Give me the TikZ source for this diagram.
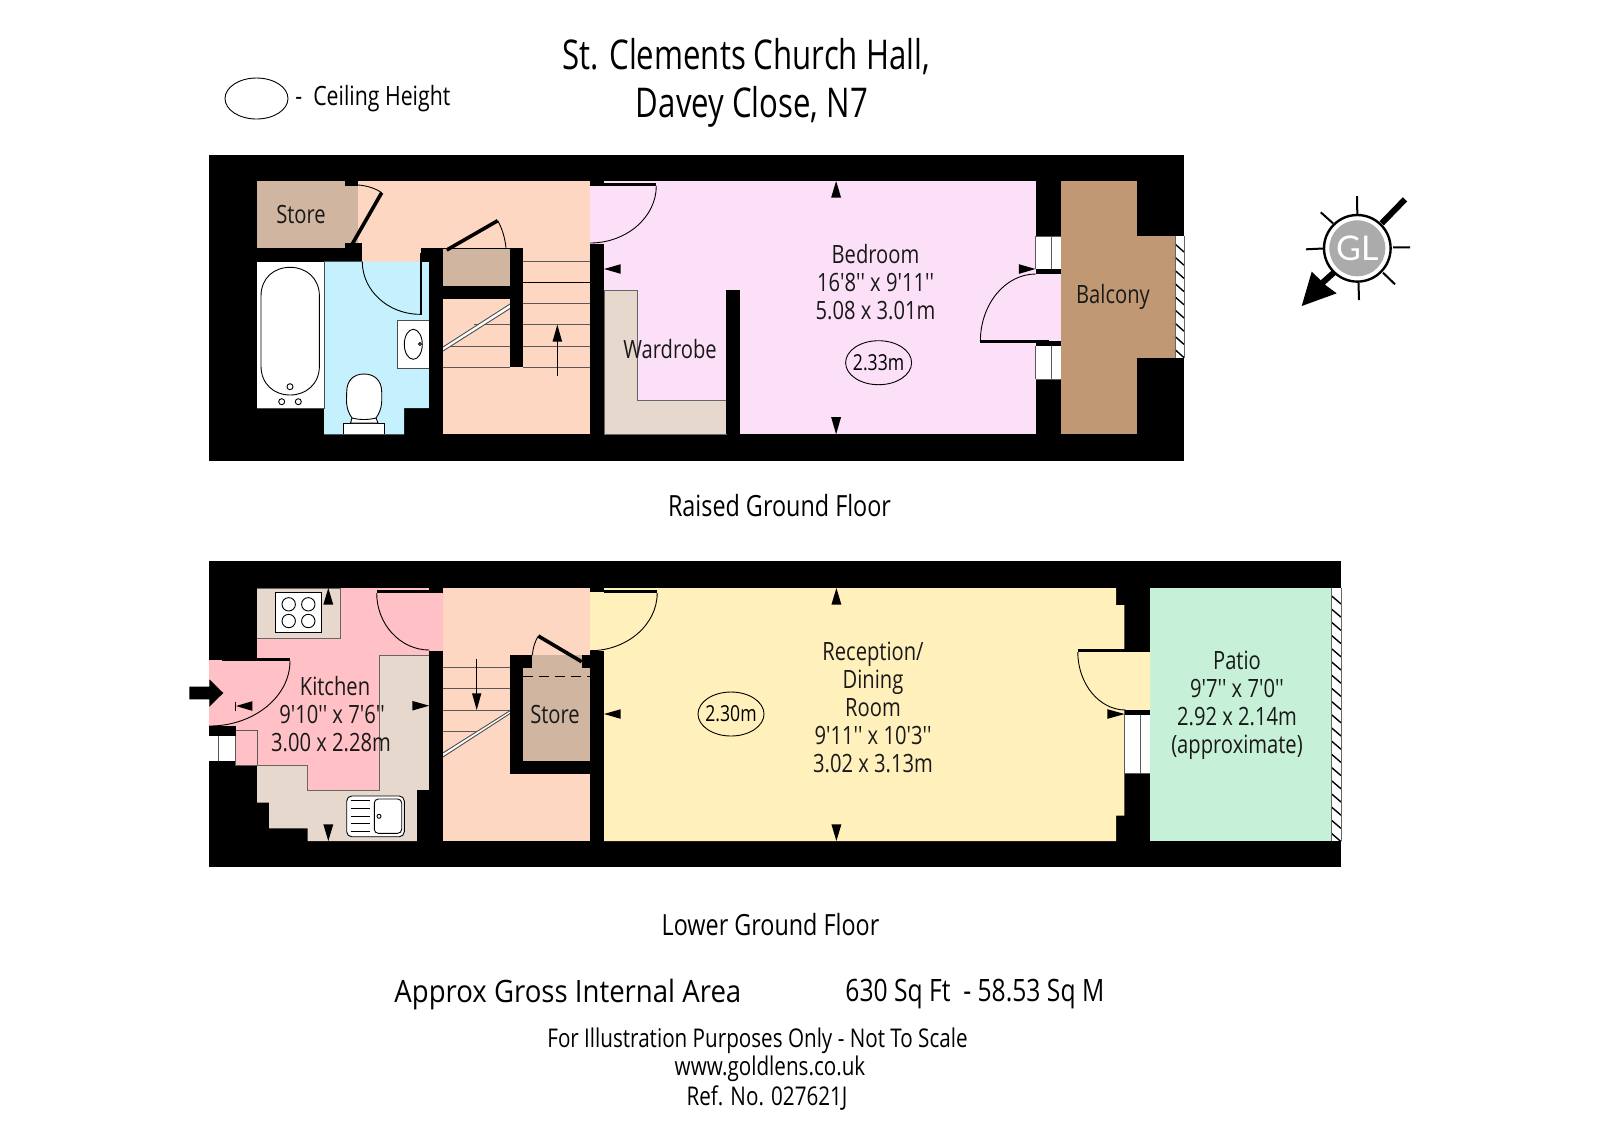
\documentclass[tikz,border=0pt]{standalone}
\usepackage{fontspec}
\newfontfamily\bodyfont[FakeStretch=0.8]{Open Sans}
\newfontfamily\titlefont[FakeStretch=0.76]{Open Sans}
\newfontfamily\widefont[FakeStretch=0.895]{Open Sans}
\newfontfamily\glfont{Lato}
\AtBeginDocument{\bodyfont}
\definecolor{peach}{HTML}{FDD7C2}
\definecolor{tan1}{HTML}{D0B5A0}
\definecolor{aqua}{HTML}{C4F1FD}
\definecolor{lilac}{HTML}{FCE0F8}
\definecolor{beige}{HTML}{E6D8CC}
\definecolor{balc}{HTML}{C09873}
\definecolor{pinkk}{HTML}{FFC1C6}
\definecolor{yell}{HTML}{FFF0BC}
\definecolor{greenp}{HTML}{C6F0D8}
\definecolor{gl}{HTML}{ABABAB}
\newcommand{\arcVH}[4]{(#1,#2) .. controls (#1,{#2+0.55*(#4-#2)}) and ({#3+0.55*(#1-#3)},#4) .. (#3,#4)}
\newcommand{\vtri}[3]{\fill (#1,#2) -- ({#1-5},#3) -- ({#1+5},#3) -- cycle;}
\newcommand{\htri}[3]{\fill (#2,#1) -- (#3,{#1-4.8}) -- (#3,{#1+4.8}) -- cycle;}
\newcommand{\hatchbar}[5]{\fill[white] (#1,#3) rectangle (#2,#4);
  \foreach \k in {1,...,#5} {\draw[line width=0.7pt] (#1,{#3+8+13.2*(\k-1)}) -- (#2,{#3+16+13.2*(\k-1)});}
  \draw[black!60,line width=0.4pt] (#1,#3) -- (#1,#4) (#2,#3) -- (#2,#4);}
\tikzset{
  thin line/.style={line width=0.45pt,black},
  leaf/.style={line width=1.8pt,black},
  stairl/.style={line width=0.45pt,black!65},
  room/.style={align=center,inner sep=0pt,font=\fontsize{12.6}{14}\selectfont,text=black!90},
  bigt/.style={align=center,inner sep=0pt,font=\titlefont\fontsize{20.5}{24}\selectfont},
  midt/.style={align=center,inner sep=0pt,font=\fontsize{15.4}{18}\selectfont},
  floort/.style={align=center,inner sep=0pt,font=\fontsize{14.6}{17}\selectfont},
  foot/.style={align=center,inner sep=0pt,font=\fontsize{12.9}{14.2}\selectfont},
  hnode/.style={draw=black,line width=0.45pt,ellipse,minimum width=33pt,minimum height=22pt,inner xsep=-3.2pt,inner ysep=0pt,font=\fontsize{11}{13}\selectfont}
}
\usetikzlibrary{shapes.geometric}
\begin{document}
\begin{tikzpicture}[x=0.5pt,y=-0.5pt]
\useasboundingbox (0,0) rectangle (1600,1132);
\fill[white] (0,0) rectangle (1600,1132);

%% ---------- titles ----------
\node[bigt] (title1) at (746,57) {St. Clements Church Hall,};
\node[bigt] (title2) at (752,106.5) {Davey Close, N7};
\node[hnode,minimum width=31.5pt,minimum height=20.5pt] (legend) at (256.5,98.5) {};
\node[foot,anchor=west,font=\fontsize{13.3}{15}\selectfont] (legendt) at (295,98.4) {-\ \ Ceiling Height};

%% ---------- raised ground floor ----------
\fill[black] (209,154.7) rectangle (1184,460.7);
% hall / stairs
\fill[peach] (358,181) rectangle (590,247.7);
\fill[peach] (362,247) rectangle (421,261.7);
\fill[peach] (523,247) rectangle (590,434.3);
\fill[peach] (443,299) rectangle (523,434.3);
% store
\fill[tan1] (257,181) rectangle (358,247.7);
\fill[black] (345,181) rectangle (358,185.5);
\fill[black] (345,243) rectangle (362,248);
\fill[tan1] (443,247.7) rectangle (510,286);
% bathroom
\fill[aqua] (324,261.7) -- (429,261.7) -- (429,408) -- (404,408) -- (404,434.3) -- (324,434.3) -- cycle;
\fill[black] (420.5,247.7) rectangle (429,261.7);
\fill[black] (420,253) rectangle (422,314.5);
\draw[thin line] \arcVH{362.3}{261.7}{420}{314.3};
% bath
\fill[white] (257,261.7) rectangle (324,408);
\draw[black!70,line width=0.3pt] (324,261.7) -- (324,408) -- (257,408);
\draw[thin line] (261,296) .. controls (261,278) and (274,267.3) .. (290.2,267.3) .. controls (306,267.3) and (319.4,278) .. (319.4,296) -- (319.4,366) .. controls (319.4,384) and (306,395) .. (290.2,395) .. controls (274,395) and (261,384) .. (261,366) -- cycle;
\draw[thin line] (290,386.7) circle[radius=3] (281.7,401.7) circle[radius=3] (298.3,401.7) circle[radius=3];
% basin
\fill[white] (397.3,320) rectangle (429,368.3);
\draw[thin line,black!70] (429,320) -- (397.3,320) -- (397.3,368.3) -- (429,368.3);
\draw[thin line] (413.3,344.3) ellipse[x radius=9,y radius=15];
\draw[thin line] (420,344) circle[radius=1.4];
% toilet
\filldraw[thin line,fill=white,line width=0.3pt] (343.7,434.3) -- (343.7,423.3) -- (384.3,423.3) -- (384.3,434.3);
\filldraw[thin line,fill=white] (350.5,423) -- (352,418) .. controls (345,408) and (346.7,400) .. (346.7,392) .. controls (346.7,380) and (354,374) .. (364,374) .. controls (374,374) and (381.7,380) .. (381.7,392) .. controls (381.7,400) and (383,408) .. (376,418) -- (378,423) -- cycle;
\draw[thin line] (352,418) .. controls (360,420) and (368,420) .. (376,418);
% stair lines
\foreach \yy in {261,282.3,303.7,324.7,346,367.3} {\draw[stairl] (523,\yy) -- (590,\yy);}
\draw[black,line width=0.45pt] (523,282.3) -- (590,282.3);
\draw[stairl] (443,346.2) -- (510,346.2);
\draw[stairl] (443,367.3) -- (510,367.3);
\draw[stairl] (474,324.7) -- (510,324.7);
\fill[white] (443,347) -- (510,304) -- (510,308.5) -- (443,351) -- cycle;
\draw[thin line,black!70] (443,347) -- (510,304) (443,351) -- (510,308.5);
% walls inside
\fill[black] (429,247.7) rectangle (443,434.3);
\fill[black] (443,286) rectangle (510,299);
\fill[black] (510,247.7) rectangle (523.3,367.3);
\fill[black] (421,247.7) rectangle (510,248.5);
\draw[thin line] (557.3,376) -- (557.3,340);
\fill (557.3,324.7) -- (552.5,341.7) -- (562.2,341.7) -- cycle;
% store + stair store doors
\draw[leaf] (351.7,245) -- (381.7,192.7);
\draw[thin line] (358,185) .. controls (366,185.5) and (375,188) .. (381.7,192.7);
\draw[leaf] (446.7,250) -- (497.7,220.7);
\draw[thin line] (497.7,220.7) .. controls (502,228) and (505,238) .. (506,247.7);
% bedroom
\fill[lilac] (604,181) rectangle (1035.7,434.3);
\fill[lilac] (590,185) rectangle (604,244);
\fill[black] (590,181) rectangle (604,185.5);
\fill[black] (590,244) rectangle (604,434.3);
\fill[black] (604,183.3) rectangle (656.3,185.8);
\draw[thin line] \arcVH{656.3}{185.8}{590}{243};
% wardrobe
\filldraw[fill=beige,draw=black!60,line width=0.4pt] (604,290) -- (637.5,290) -- (637.5,400.7) -- (726.1,400.7) -- (726.1,434.3) -- (604,434.3) -- cycle;
\fill[black] (726.1,290) rectangle (739.5,434.3);
% bedroom right wall, door and windows
\fill[white] (1035.5,236) rectangle (1061.2,269);
\fill[white] (1035.5,345.7) rectangle (1061.2,379);
\draw[stairl] (1035.5,236) -- (1061.2,236) (1051.5,236) -- (1051.5,269) (1035.5,236) -- (1035.5,269);
\draw[stairl] (1035.5,379) -- (1061.2,379) (1051.5,345.7) -- (1051.5,379) (1035.5,345.7) -- (1035.5,379);
\fill[lilac] (1034.7,274) rectangle (1061.2,341);
\fill[black] (1035.5,269) rectangle (1061.2,274);
\fill[black] (980.2,340) rectangle (1048.6,343.3);
\fill[black] (1048.6,341) rectangle (1061.2,345.7);
\draw[thin line] \arcVH{980.4}{341}{1035.7}{274};
% balcony
\fill[balc] (1061.2,181) rectangle (1136.7,434.3);
\fill[balc] (1136.5,236) rectangle (1175,357.7);
\hatchbar{1175}{1184}{236}{357.7}{9}
% triangles
\htri{269}{604}{620.7}
\htri{269}{1035.5}{1018.9}
\vtri{836.1}{181}{197.7}
\vtri{836.1}{434.3}{417}
% labels
\node[room] (store1) at (301,214) {Store};
\node[room] (wardrobe) at (670,349) {Wardrobe};
\node[room] (bedroom) at (875.5,282) {Bedroom\\16'8'' x 9'11''\\5.08 x 3.01m};
\node[room] (balcony) at (1113,297) {Balcony};
\node[hnode] (h233) at (878.6,362.7) {2.33m};
\node[floort] (rgf) at (779.5,505.5) {Raised Ground Floor};

%% ---------- compass ----------
\draw[line width=1pt] (1357.3,214) -- (1357,196) (1323,248.5) -- (1306,249.3) (1393,247.3) -- (1410,247.3) (1383,272.7) -- (1395,284.3) (1358.5,283) -- (1359,300);
\draw[line width=1pt] (1320.7,212.3) -- (1333,223.3);
\draw[line width=3pt] (1381.7,223.3) -- (1405,199.3);
\draw[line width=3pt] (1335,271.5) -- (1320,285);
\fill (1301.7,306) -- (1311.7,271.7) -- (1326.7,286) -- (1336.7,293.3) -- cycle;
\draw[line width=1.2pt,fill=white] (1357.3,248.3) circle[radius=33.3];
\fill[gl] (1357.3,248.3) circle[radius=28];
\node[inner sep=0pt,text=white,font=\glfont\fontsize{17}{19}\selectfont] (gl) at (1357.3,248.3) {GL};

%% ---------- lower ground floor ----------
\fill[black] (209,561.3) rectangle (1341,867.3);
% stairs
\fill[peach] (443.3,588) rectangle (590,841);
% kitchen base
\fill[pinkk] (257,588) -- (443.3,588) -- (443.3,650.7) -- (429,655.3) -- (429,790) -- (257,790) -- cycle;
\fill[pinkk] (209,660) rectangle (257,726);
\fill[pinkk] (235.7,726) rectangle (257,765.5);
\fill[white] (209,735.7) rectangle (235.7,761);
\draw[stairl] (218.3,735.7) -- (218.3,761);
\draw[stairl] (209,735.7) -- (235.7,735.7) -- (235.7,765.5) -- (257,765.5) -- (257,730.7) -- (235.7,730.7);
\fill[black] (209,726.7) rectangle (235.7,735.7);
\fill[black] (209,652) rectangle (235.7,659.7);
\fill[black] (235.7,652) rectangle (257,657.5);
\fill[black] (221.7,657.7) rectangle (290,661);
\draw[thin line] \arcVH{290}{661}{209.5}{726};
% counters
\filldraw[fill=beige,draw=black!60,line width=0.4pt] (257,588) -- (340.7,588) -- (340.7,638.3) -- (257,638.3);
\fill[beige] (379,655.3) -- (429,655.3) -- (429,790) -- (417,790) -- (417,841) -- (307.7,841) -- (307.7,828.3) -- (269,828.3) -- (269,802.7) -- (257,802.7) -- (257,765.3) -- (307.3,765.3) -- (307.3,790.7) -- (379,790.7) -- cycle;
\draw[black!60,line width=0.4pt] (429,655.3) -- (379,655.3) -- (379,790.7) -- (307.3,790.7) -- (307.3,765.3) -- (257,765.3);
% hob
\filldraw[fill=white,draw=black,line width=0.5pt] (275.3,592.3) rectangle (321.7,632.7);
\foreach \cx/\cy in {288.7/604.3,308.3/604.3,288.7/621,308.3/621} {\draw[thin line] (\cx,\cy) circle[radius=6.7];}
% sink
\filldraw[fill=white,draw=black,line width=0.45pt,rounded corners=2.5pt] (346.7,796) rectangle (404.3,836.7);
\draw[thin line,rounded corners=2pt] (374.3,799) rectangle (401.7,833.3);
\foreach \yy in {800,808.3,816,823.3,831.7} {\draw[thin line] (350.7,\yy) -- (370,\yy);}
\draw[thin line] (379,816.3) circle[radius=2];
% kitchen doors
\fill[black] (429,588) rectangle (443.3,592.7);
\fill[black] (376.7,590) rectangle (429,593);
\draw[thin line] \arcVH{376.7}{593}{429.3}{650};
\fill[black] (429,650.7) rectangle (443.3,841);
\fill[black] (417,790) rectangle (429,841);
% stair lines
\foreach \yy in {667.3,688.7,710} {\draw[stairl] (443.3,\yy) -- (510,\yy);}
\draw[stairl] (443.3,731.3) -- (477,731.3);
\fill[white] (443.3,752.7) -- (510,710.7) -- (510,713.5) -- (443.3,756.7) -- cycle;
\draw[thin line,black!70] (443.3,752.7) -- (510,710.7) (443.3,756.7) -- (510,713.5);
\draw[thin line] (476.7,659) -- (476.7,695);
\fill (476.7,710) -- (472,693.3) -- (481.4,693.3) -- cycle;
% store
\fill[black] (510,655) rectangle (590,774);
\fill[tan1] (523.3,668.3) rectangle (590,760.7);
\fill[tan1] (532.3,655) rectangle (581.7,669);
\draw[line width=0.4pt,dash pattern=on 5pt off 3pt] (523.3,676.3) -- (590,676.3);
\draw[leaf] (538.3,636) -- (581.7,661.7);
\draw[thin line] (538.3,636) .. controls (535,641) and (533,648) .. (532.3,655);
% reception
\fill[yell] (604,588) -- (1116,588) -- (1116,605) -- (1124.3,605) -- (1124.3,815.7) -- (1116,815.7) -- (1116,841) -- (604,841) -- cycle;
\fill[yell] (590,592) rectangle (604,650.7);
\fill[black] (590,588) rectangle (604,592);
\fill[black] (590,650.7) rectangle (604,841);
\fill[black] (604,590) rectangle (657.2,593);
\draw[thin line] \arcVH{657.2}{593}{590}{650.7};
% reception door and window
\fill[yell] (1123.6,652) rectangle (1150.3,710);
\fill[black] (1077.8,649.3) rectangle (1137.5,652);
\draw[thin line] \arcVH{1077.8}{652}{1125.6}{710};
\fill[black] (1124.6,710) rectangle (1150.3,715);
\fill[white] (1124.6,715) rectangle (1150.3,773.3);
\draw[stairl] (1124.6,715) -- (1124.6,773.3) -- (1150.3,773.3) (1140.4,715) -- (1140.4,773.3);
% patio
\fill[greenp] (1150.3,588) rectangle (1331.7,841);
\hatchbar{1331.7}{1341}{588}{841}{19}
% triangles
\vtri{328.3}{588}{604.7}
\vtri{328.3}{841}{824.3}
\htri{705.7}{429.3}{412.3}
\htri{706}{236}{252.3}
\draw[line width=0.6pt] (235.3,701.7) -- (235.3,710.7);
\htri{714}{604}{620.7}
\htri{714}{1124.6}{1107.4}
\vtri{836.4}{588}{604.7}
\vtri{836.4}{841}{824.3}
% entrance arrow
\fill (223.3,693) -- (209.3,679.3) -- (209.3,686.7) -- (189.3,686.7) -- (189.3,699.3) -- (209.3,699.3) -- (209.3,706.7) -- cycle;
% labels
\node[room] (kit1) at (335,686) {Kitchen};
\node[room] (kit2) at (332,714.3) {9'10'' x 7'6''};
\node[room] (kit3) at (331,742.7) {3.00 x 2.28m};
\node[room] (store2) at (555,714) {Store};
\node[room] (recept) at (873,707.5) {Reception/\\Dining\\Room\\9'11'' x 10'3''\\3.02 x 3.13m};
\node[room] (patio) at (1237,705.5) {Patio\\9'7'' x 7'0''\\2.92 x 2.14m\\(approximate)};
\node[hnode] (h230) at (731,714) {2.30m};
\node[floort] (lgf) at (770.5,925) {Lower Ground Floor};

%% ---------- footer ----------
\node[midt,anchor=west,font=\widefont\fontsize{15.4}{18}\selectfont] (area) at (394,994) {Approx Gross Internal Area};
\node[midt,anchor=west] (sq) at (845,994) {630 Sq Ft\ \ - 58.53 Sq M};
\node[foot] (f1) at (757.5,1041) {For Illustration Purposes Only - Not To Scale};
\node[foot] (f2) at (770,1069) {www.goldlens.co.uk};
\node[foot] (f3) at (767,1098.5) {Ref. No. 027621J};
\end{tikzpicture}
\end{document}
